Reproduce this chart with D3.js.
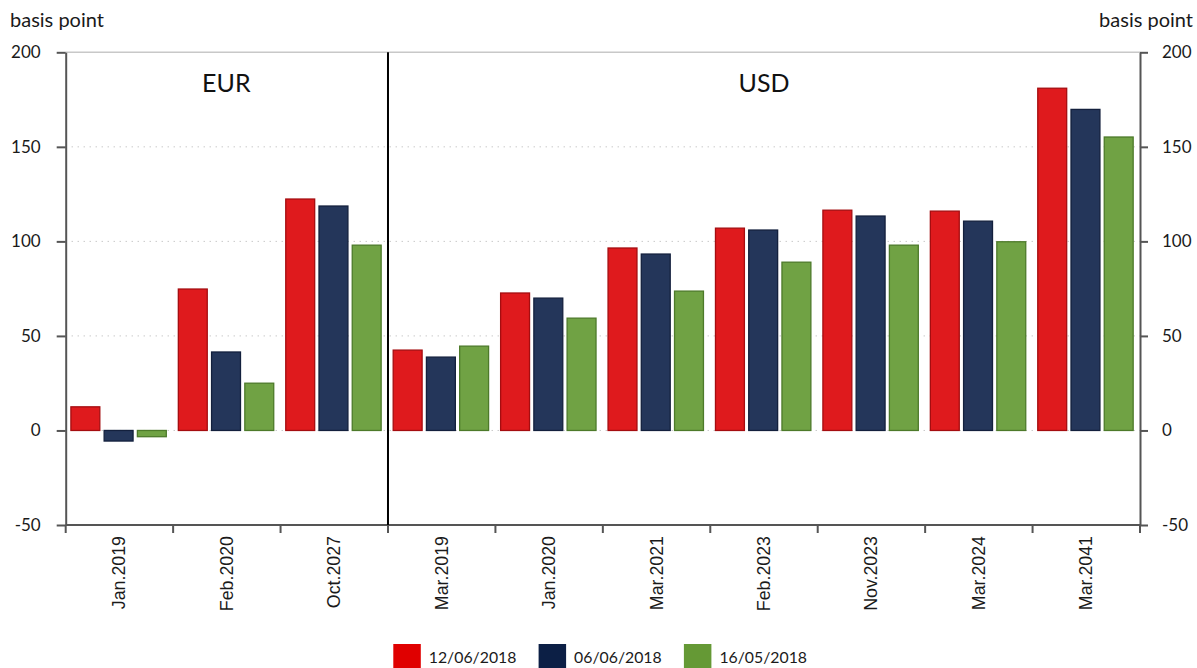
<!DOCTYPE html>
<html><head><meta charset="utf-8">
<script src="https://cdn.jsdelivr.net/npm/d3@7"></script>
<style>body{margin:0;background:#fff}svg{display:block}</style>
</head><body>
<svg id="c" width="1197" height="668"></svg>
<script>
const categories = ["Jan.2019","Feb.2020","Oct.2027","Mar.2019","Jan.2020","Mar.2021","Feb.2023","Nov.2023","Mar.2024","Mar.2041"];
const seriesNames = ["12/06/2018","06/06/2018","16/05/2018"];
const s1 = [12.5, 74.8, 122.4, 42.5, 72.7, 96.5, 107, 116.5, 116, 181];
const s2 = [-5.6, 41.5, 118.7, 38.8, 70, 93.3, 106, 113.4, 110.7, 169.8];
const s3 = [-3.3, 25, 98, 44.6, 59.4, 73.7, 89, 98, 99.8, 155.2];
const groups = [{name:"EUR", from:0, to:3},{name:"USD", from:3, to:10}];
const yTicks = [-50, 0, 50, 100, 150, 200];
const fills = ["#DF1A1D","#24365A","#70A244"];
const strokes = ["#A50D10","#13203D","#4D7A2A"];
const legendFills = ["#E00000","#0C1F45","#659935"];

const svg = d3.select("#c");
const L = 65.7, R = 1140, T = 52.3, B = 525;
const x = d3.scaleBand().domain(categories).range([L, R]).padding(0);
const bw = x.bandwidth();
const x1 = d3.scaleBand().domain([0,1,2]).range([5.2, 100.6]).paddingInner(0.13).paddingOuter(0);
const y = d3.scaleLinear().domain([-50, 200]).range([B, T]);
const series = [s1, s2, s3];
const fmt = d => String(d);

// gridlines
svg.append("g").selectAll("line").data(yTicks.filter(t => t > -50 && t < 200)).join("line")
  .attr("x1", L).attr("x2", R).attr("y1", d => y(d)).attr("y2", d => y(d))
  .attr("stroke", "#b0b0b0").attr("stroke-width", 1).attr("stroke-dasharray", "1,5");
svg.append("line").attr("x1", L).attr("x2", R).attr("y1", y(200)).attr("y2", y(200))
  .attr("stroke", "#c8c8c8").attr("stroke-width", 1.5);

// bars
series.forEach((vals, si) => {
  svg.append("g").selectAll("rect").data(vals).join("rect")
    .attr("x", (d, i) => x(categories[i]) + x1(si))
    .attr("width", x1.bandwidth())
    .attr("y", d => y(Math.max(0, d)))
    .attr("height", d => Math.abs(y(d) - y(0)))
    .attr("fill", fills[si]).attr("stroke", strokes[si]).attr("stroke-width", 1.3);
});

// axes
const axisColor = "#555";
const leftAx = svg.append("g").attr("transform", `translate(${L},0)`)
  .call(d3.axisLeft(y).tickValues(yTicks).tickFormat(fmt).tickSize(9).tickPadding(16).tickSizeOuter(0));
const rightAx = svg.append("g").attr("transform", `translate(${R},0)`)
  .call(d3.axisRight(y).tickValues(yTicks).tickFormat(fmt).tickSize(8).tickPadding(14).tickSizeOuter(0));
[leftAx, rightAx].forEach(g => {
  g.select(".domain").attr("stroke", axisColor).attr("stroke-width", 2);
  g.selectAll(".tick line").attr("stroke", axisColor).attr("stroke-width", 2);
  g.selectAll(".tick text").attr("font-family", "Lato, sans-serif").attr("font-size", 17).attr("fill", "#1a1a1a");
});

// x axis line and boundary ticks
svg.append("line").attr("x1", L).attr("x2", R).attr("y1", B).attr("y2", B)
  .attr("stroke", axisColor).attr("stroke-width", 2);
const bounds = categories.map(c => x(c)).concat([R]);
svg.append("g").selectAll("line").data(bounds).join("line")
  .attr("x1", d => d).attr("x2", d => d).attr("y1", B).attr("y2", B + 8)
  .attr("stroke", axisColor).attr("stroke-width", 2);

// x labels
svg.append("g").selectAll("text").data(categories).join("text")
  .attr("transform", d => `translate(${x(d) + bw / 2 + 6},536) rotate(-90)`)
  .attr("text-anchor", "end")
  .attr("font-family", "Liberation Sans, Arial, sans-serif").attr("font-size", 17.8)
  .attr("fill", "#1a1a1a").text(d => d);

// separator
svg.append("line").attr("x1", x(categories[3])).attr("x2", x(categories[3]))
  .attr("y1", T).attr("y2", B).attr("stroke", "#000").attr("stroke-width", 2);

// group labels
groups.forEach(g => {
  const a = x(categories[g.from]), b = g.to < categories.length ? x(categories[g.to]) : R;
  svg.append("text").attr("x", (a + b) / 2 + (g.name === "EUR" ? -0.5 : 0)).attr("y", 92)
    .attr("text-anchor", "middle").attr("font-family", "Lato, sans-serif").attr("font-size", 25)
    .attr("fill", "#111").text(g.name);
});

// axis titles
svg.append("text").attr("x", 10).attr("y", 27).attr("font-family", "Lato, sans-serif")
  .attr("font-size", 20).attr("fill", "#1a1a1a").text("basis point");
svg.append("text").attr("x", 1193).attr("y", 27).attr("text-anchor", "end").attr("font-family", "Lato, sans-serif")
  .attr("font-size", 20).attr("fill", "#1a1a1a").text("basis point");

// legend
const lg = svg.append("g");
seriesNames.forEach((n, i) => {
  const lx = 393.3 + i * 145.3;
  lg.append("rect").attr("x", lx).attr("y", 644).attr("width", 27.5).attr("height", 24).attr("fill", legendFills[i]);
  lg.append("text").attr("x", lx + 35.5).attr("y", 662.5).attr("font-family", "Lato, sans-serif")
    .attr("font-size", 15.8).attr("fill", "#1a1a1a").text(n);
});
</script>
</body></html>
